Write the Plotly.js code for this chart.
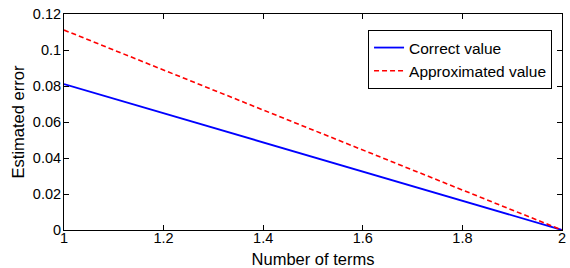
<!DOCTYPE html>
<html><head><meta charset="utf-8">
<script src="https://cdn.plot.ly/plotly-3.0.1.min.js"></script>
<style>html,body{margin:0;padding:0;background:#fff}#chart{width:570px;height:268px}</style>
</head><body><div id="chart"></div>
<script>
const terms = [1, 2];
const correctValue = [0.0811, 0];
const approximatedValue = [0.1111, 0];
const xTicks = [1, 1.2, 1.4, 1.6, 1.8, 2];
const xTickText = ['1', '1.2', '1.4', '1.6', '1.8', '2'];
const yTicks = [0, 0.02, 0.04, 0.06, 0.08, 0.1, 0.12];
const yTickText = ['0', '0.02', '0.04', '0.06', '0.08', '0.1', '0.12'];

const fam = 'Liberation Sans, Arial, sans-serif';
const tickFont = {family: fam, color: '#000', size: 14.5};
const titleFont = {family: fam, color: '#000', size: 16.5};
const legendFont = {family: fam, color: '#000', size: 15.5};
const data = [
  {x: terms, y: correctValue, mode: 'lines', name: 'Correct value',
   line: {color: 'rgb(0,0,255)', width: 1.8}},
  {x: terms, y: approximatedValue, mode: 'lines', name: 'Approximated value',
   line: {color: 'rgb(255,0,0)', width: 1.6, dash: '5px,3px'}}
];
const axisCommon = {showline: true, linecolor: '#000', linewidth: 1, mirror: 'allticks',
  ticks: 'inside', ticklen: 5, tickcolor: '#000', showgrid: false, zeroline: false,
  tickfont: tickFont};
const layout = {
  width: 570, height: 268,
  margin: {l: 64, r: 8, t: 14, b: 38},
  paper_bgcolor: '#fff', plot_bgcolor: '#fff',
  font: tickFont,
  showlegend: true,
  xaxis: Object.assign({}, axisCommon, {range: [1, 2], tickvals: xTicks, ticktext: xTickText,
    ticklabelstandoff: -5,
    title: {text: 'Number of terms', font: titleFont, standoff: -2}}),
  yaxis: Object.assign({}, axisCommon, {range: [0, 0.12], tickvals: yTicks, ticktext: yTickText,
    ticklabelstandoff: -1,
    title: {text: 'Estimated error', font: titleFont, standoff: 4}}),
  legend: {x: 0.98, y: 0.926, xanchor: 'right', yanchor: 'top', bordercolor: '#000', borderwidth: 1,
    bgcolor: '#fff', font: legendFont, tracegroupgap: 0, itemwidth: 30}
};
Plotly.newPlot('chart', data, layout, {displayModeBar: false, staticPlot: true});
</script></body></html>
